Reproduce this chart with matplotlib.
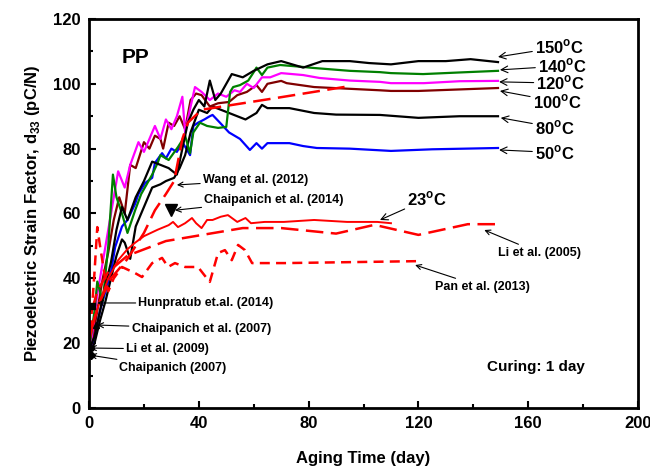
import matplotlib
matplotlib.use('Agg')
import matplotlib.pyplot as plt
from matplotlib.ticker import MultipleLocator

plt.rcParams['font.family'] = 'Liberation Sans'
plt.rcParams['font.weight'] = 'bold'
plt.rcParams['mathtext.fontset'] = 'custom'
plt.rcParams['mathtext.rm'] = 'Liberation Sans:bold'
plt.rcParams['mathtext.bf'] = 'Liberation Sans:bold'

# d33 vs aging time, cured 1 day, poled at different temperatures
t150_day = [0, 2, 4, 6, 8, 10, 12, 14, 17, 20, 23, 26, 29, 32, 34, 36, 38, 40, 42, 44,
            46, 48, 52, 56, 60, 65, 70, 78, 85, 95, 102, 110, 120, 130, 139, 149]
t150 = [18, 22, 30, 38, 45, 55, 62, 58, 65, 70, 76, 75, 74, 72, 80, 88, 92, 95, 93, 101,
        95, 97, 103, 102, 104, 106, 107, 105, 107, 107, 106.4, 106, 107, 107, 107.6, 106.7]

t140_day = [0, 2, 3, 4, 5, 7, 8.7, 10, 12, 14, 16.8, 19, 21, 23, 25, 26, 28, 29, 32.4, 35,
            36.8, 38, 40.4, 43, 47, 50, 51.4, 52.5, 55, 58, 60, 61, 63, 65, 69.6, 78, 81.6,
            95, 106, 110, 121.7, 135, 149]
t140 = [18, 30, 39, 36, 33, 50, 72, 65, 60, 54, 61, 66, 69, 72, 75.6, 78, 77, 76.5, 80.5, 84,
        78.6, 85, 88, 87, 86.4, 86.7, 97.5, 99, 99.6, 101, 103.6, 105, 102.7, 105, 105.8, 105.2,
        104.9, 104, 103.6, 103.3, 103, 103.5, 104]

t120_day = [0, 1, 3, 5, 7, 9, 10.6, 13, 15, 18, 20, 22, 24, 26, 28, 30, 32, 34, 35, 37,
            38.6, 41, 44, 47, 50, 53, 55, 57.5, 60, 63, 66, 70, 78, 84, 95, 106, 110, 122,
            135, 149]
t120 = [19, 22, 35, 45, 55, 65, 73, 68, 75, 82, 79, 83, 87, 83, 89, 86, 90, 96, 85, 93,
        99, 97.5, 95, 97, 96, 98, 97.5, 100, 98.7, 102, 102, 103.3, 102.7, 101.8, 101, 100.6,
        100.2, 100.2, 100.8, 100.9]

t100_day = [0, 1, 3, 5, 7, 9, 11, 13, 15, 17, 20, 22, 24, 26, 27, 29, 31, 33, 35, 37, 39,
            41, 44, 47, 51, 54, 57.5, 61, 63, 65, 70, 72, 82, 106, 110, 120, 149]
t100 = [18, 20, 30, 40, 48, 58, 65, 60, 75, 74, 82, 80, 84, 83, 80, 88, 87, 90, 86, 95, 97,
        96.5, 93, 94, 94.4, 96.5, 97.5, 99.6, 97.5, 100, 100.9, 100.2, 99, 98, 97.8, 97.8, 98.7]

t80_day = [0, 2, 4, 6, 8, 10, 12, 13, 15, 17, 20, 23, 26, 28, 31, 33, 35, 37, 40, 43, 45,
           48, 51, 54, 57, 61, 63, 65, 73, 82, 90, 106, 120, 135, 149]
t80 = [16, 20, 27, 33, 40, 47, 52, 51, 46, 56, 62, 68, 69, 70, 71, 74, 78, 85, 92, 91, 93,
       92, 91, 90, 89, 91, 93.5, 92.5, 92.5, 91, 90.5, 90.4, 89.5, 90, 90]

t50_day = [0, 2, 4, 6, 8, 9.5, 12, 14, 16.8, 18, 20.4, 23, 24, 26.6, 28, 30, 32, 34, 35.7,
           36.8, 38, 39.7, 42, 44, 45, 47.7, 51, 55, 58.6, 61, 63, 65, 73, 78, 83, 95, 110,
           125, 149]
t50 = [17, 22, 30, 36, 42, 49.6, 56, 58, 63, 66, 69.4, 71, 75.6, 78.6, 77, 80, 79, 82, 79.6,
       78, 87, 88, 89, 90, 90.4, 88, 85, 83, 79.6, 81.7, 80, 81.7, 81.7, 80.8, 80.2, 80, 79.3,
       79.8, 80.2]

t23_day = [0, 2, 4, 7, 10.6, 14, 16.8, 20, 25, 29, 30.6, 32.4, 35, 37.5, 39, 41, 43, 45, 48,
           50.6, 54, 57, 59, 64, 71, 82, 94, 105, 110]
t23 = [20, 28, 33, 40, 45.6, 49, 51, 53, 55, 56.4, 57.4, 55.8, 57, 58.6, 57, 55.5, 58, 58,
       59, 59.5, 57.4, 58.6, 57, 57.4, 57.4, 58, 57.4, 57.4, 57]

# literature data (23 C)
li2005_day = [1, 3, 7, 14, 28, 56, 70, 90, 104, 120, 138, 150]
li2005 = [30, 36, 42, 47, 51.5, 55.5, 55.5, 53.8, 56.5, 53.4, 56.7, 56.7]

wang2012_day = [1, 4, 8, 14, 20, 24, 28, 31, 34, 36, 41, 47, 56, 68, 95]
wang2012 = [25, 33, 40, 46, 54, 61, 66, 70, 83, 88, 92, 92.8, 94, 95.6, 99.3]

pan2013_day = [0.5, 2, 3, 4, 5.8, 7, 9, 12, 16.8, 19.3, 23, 26.6, 28.8, 31.3, 35, 39.7, 42,
               44, 47, 49.5, 52, 54.3, 56.8, 59.4, 71.4, 120]
pan2013 = [24, 42, 55.8, 50, 40.4, 36, 40, 43.5, 41.6, 40.4, 44.7, 46.3, 43.5, 44.7, 43.5,
           43.5, 41, 38.9, 47.8, 48.7, 45.6, 50.3, 48.7, 44.7, 44.7, 45.3]

chai2014 = (30, 61)
hun2014 = (1, 31.5)
chai2007a = (2.5, 25.5)
li2009 = (0.6, 18.5)
chai2007b = (0.6, 16.5)

fig = plt.figure(figsize=(6.5, 4.73), dpi=100)
ax = fig.add_axes((0.137, 0.1374, 0.8445, 0.8225))

lw = 1.6
ax.plot(t50_day, t50, color='#0000ff', lw=lw)
ax.plot(t80_day, t80, color='black', lw=lw)
ax.plot(t100_day, t100, color='#800000', lw=lw)
ax.plot(t120_day, t120, color='#ff00ff', lw=lw)
ax.plot(t140_day, t140, color='#008000', lw=lw)
ax.plot(t150_day, t150, color='black', lw=lw)

ax.plot(t23_day, t23, color='#ff0000', lw=1.4)
ax.plot(li2005_day, li2005, color='#ff0000', lw=1.8, dashes=(7, 3))
ax.plot(wang2012_day, wang2012, color='#ff0000', lw=1.8, dashes=(7, 3))
ax.plot(pan2013_day, pan2013, color='#ff0000', lw=1.8, dashes=(4, 2.5))

ax.plot(*chai2014, marker='v', color='black', ms=8)
ax.plot(*hun2014, marker='s', color='black', ms=4)
ax.plot(*chai2007a, marker='^', color='black', ms=4)
ax.plot(*li2009, marker='o', color='black', ms=4)
ax.plot(*chai2007b, marker='D', color='black', ms=4)

arrow = dict(arrowstyle='->', color='black', lw=0.8, shrinkA=0, shrinkB=0)


def note(text, tip, tail, size, ha='left'):
    ax.annotate(text, xy=tip, xytext=tail, fontsize=size, fontweight='bold',
                ha=ha, va='center', arrowprops=arrow)


deg = r'$^{\mathrm{o}}$C'
note('150' + deg, (149, 108.3), (162.5, 111.3), 12)
note('140' + deg, (149.7, 104.3), (163.6, 105.5), 12)
note('120' + deg, (149.4, 100.6), (163, 100.2), 12)
note('100' + deg, (149.7, 97.8), (161.7, 94.5), 12)
note('80' + deg, (150, 89.5), (162.5, 86.5), 12)
note('50' + deg, (149.4, 79.6), (162.5, 78.8), 12)
note('23' + deg, (106, 58), (116, 64.5), 12)

note('Li et al. (2005)', (144, 54.9), (149, 47.8), 9)
note('Pan et al. (2013)', (118.8, 44.1), (126, 37.3), 9)
note('Wang et al. (2012)', (32, 68.8), (41.5, 70.3), 9)
note('Chaipanich et al. (2014)', (31.3, 61), (42, 64.3), 9)
note('Hunpratub et.al. (2014)', (3, 32.4), (18, 32.4), 9)
note('Chaipanich et al. (2007)', (3, 25.6), (15.5, 24.5), 9)
note('Li et al. (2009)', (0.4, 18.5), (13.5, 18.2), 9)
note('Chaipanich (2007)', (0.4, 16.3), (11, 12.3), 9)

ax.text(11.7, 108, 'PP', fontsize=15, fontweight='bold', va='center')
ax.text(145, 12.6, 'Curing: 1 day', fontsize=11, fontweight='bold', va='center')

ax.set_xlim(0, 200)
ax.set_ylim(0, 120)
ax.xaxis.set_major_locator(MultipleLocator(40))
ax.xaxis.set_minor_locator(MultipleLocator(20))
ax.yaxis.set_major_locator(MultipleLocator(20))
ax.yaxis.set_minor_locator(MultipleLocator(10))
ax.tick_params(which='both', direction='in', width=1.5, labelsize=12, pad=6)
ax.tick_params(which='major', length=5)
ax.tick_params(which='minor', length=3)
for s in ax.spines.values():
    s.set_linewidth(2)
for lab in ax.get_xticklabels() + ax.get_yticklabels():
    lab.set_fontweight('bold')

ax.set_xlabel('Aging Time (day)', fontsize=12, fontweight='bold', labelpad=14)
ax.set_ylabel(r'Piezoelectric Strain Factor, d$_{33}$ (pC/N)', fontsize=12,
              fontweight='bold', labelpad=8)

fig.savefig('out.png', dpi=100)
